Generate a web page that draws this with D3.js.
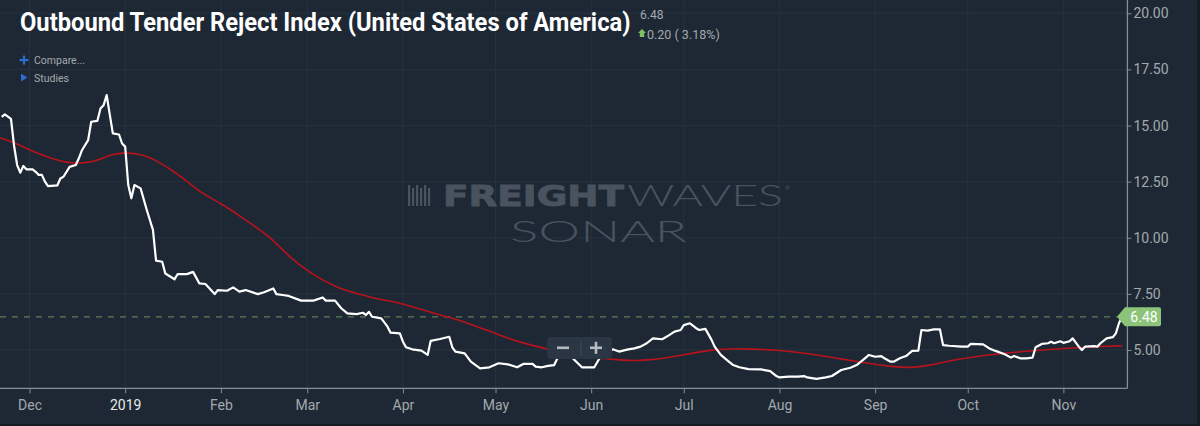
<!DOCTYPE html>
<html>
<head>
<meta charset="utf-8">
<script src="https://cdn.jsdelivr.net/npm/d3@7"></script>
<style>
  html, body { margin: 0; padding: 0; background: #141c24; }
  svg { display: block; font-family: Roboto, "Noto Sans", sans-serif; }
</style>
</head>
<body>
<svg id="chart" width="1200" height="426"></svg>
<script>
// Outbound tender reject index, daily
const rejDates = [
  "2018-11-22","2018-11-23","2018-11-24","2018-11-25","2018-11-26","2018-11-27","2018-11-28","2018-11-29","2018-11-30",
  "2018-12-02","2018-12-03","2018-12-04","2018-12-05","2018-12-06","2018-12-07","2018-12-10","2018-12-11","2018-12-12",
  "2018-12-14","2018-12-16","2018-12-17","2018-12-18","2018-12-20","2018-12-21","2018-12-23","2018-12-24","2018-12-25",
  "2018-12-26","2018-12-27","2018-12-28","2018-12-30","2018-12-31",
  "2019-01-01","2019-01-02","2019-01-03","2019-01-04","2019-01-06","2019-01-08","2019-01-10","2019-01-11","2019-01-13",
  "2019-01-14","2019-01-17","2019-01-18","2019-01-21","2019-01-23","2019-01-25","2019-01-27","2019-01-30","2019-01-31",
  "2019-02-03","2019-02-05","2019-02-07","2019-02-09","2019-02-13","2019-02-15","2019-02-18","2019-02-19","2019-02-21",
  "2019-02-23","2019-02-27","2019-03-03","2019-03-06","2019-03-07","2019-03-10","2019-03-12","2019-03-14","2019-03-17",
  "2019-03-19","2019-03-20","2019-03-21","2019-03-22","2019-03-25","2019-03-27","2019-03-28","2019-03-31",
  "2019-04-01","2019-04-02","2019-04-04","2019-04-07","2019-04-09","2019-04-10","2019-04-13","2019-04-16","2019-04-17",
  "2019-04-18","2019-04-21","2019-04-23","2019-04-26","2019-04-29",
  "2019-05-02","2019-05-05","2019-05-08","2019-05-10","2019-05-13","2019-05-14","2019-05-16","2019-05-18","2019-05-20",
  "2019-05-22","2019-05-24","2019-05-26","2019-05-29",
  "2019-06-02","2019-06-04","2019-06-06","2019-06-08","2019-06-10","2019-06-13","2019-06-15","2019-06-17","2019-06-19",
  "2019-06-21","2019-06-24","2019-06-26","2019-06-28","2019-06-30",
  "2019-07-01","2019-07-03","2019-07-05","2019-07-06","2019-07-08","2019-07-10","2019-07-11","2019-07-13","2019-07-15",
  "2019-07-17","2019-07-19","2019-07-22","2019-07-26","2019-07-29","2019-07-31",
  "2019-08-01","2019-08-04","2019-08-07","2019-08-09","2019-08-10","2019-08-13","2019-08-16","2019-08-18","2019-08-21",
  "2019-08-24","2019-08-26","2019-08-28","2019-08-30",
  "2019-09-01","2019-09-03","2019-09-04","2019-09-06","2019-09-07","2019-09-09","2019-09-11","2019-09-13","2019-09-15",
  "2019-09-16","2019-09-18","2019-09-20","2019-09-22","2019-09-23","2019-09-25","2019-09-29",
  "2019-10-01","2019-10-02","2019-10-06","2019-10-08","2019-10-10","2019-10-13","2019-10-15","2019-10-16","2019-10-18",
  "2019-10-20","2019-10-22","2019-10-23","2019-10-25","2019-10-27","2019-10-28","2019-10-29","2019-10-31",
  "2019-11-01","2019-11-03","2019-11-04","2019-11-06","2019-11-07","2019-11-08","2019-11-11","2019-11-12","2019-11-13",
  "2019-11-15","2019-11-17","2019-11-18","2019-11-19","2019-11-20"
];
const rejValues = [
  15.39,15.5,15.4,15.3,14.1,13.24,12.9,13.2,13.05,
  13.05,12.94,12.8,12.8,12.5,12.3,12.33,12.64,12.72,
  13.16,13.24,13.54,13.9,14.35,15.17,15.21,15.76,15.9,
  16.36,15.5,14.65,14.6,14.2,
  14.06,12.35,11.76,12.35,12.2,11.24,10.35,8.98,8.93,
  8.41,8.15,8.38,8.38,8.48,7.97,7.94,7.49,7.67,
  7.64,7.79,7.6,7.67,7.49,7.57,7.74,7.49,7.45,
  7.41,7.2,7.2,7.34,7.2,7.2,6.86,6.63,6.6,
  6.66,6.56,6.7,6.48,6.41,6.04,5.77,5.74,
  5.37,5.12,5.03,4.97,4.78,5.41,5.49,5.59,5.12,
  4.93,4.85,4.48,4.18,4.23,
  4.41,4.36,4.23,4.38,4.38,4.26,4.23,4.29,4.33,
  4.9,4.9,4.63,4.23,
  4.23,4.7,4.85,5.03,4.93,5.03,5.07,5.15,5.3,
  5.52,5.48,5.64,5.82,5.89,
  6.11,6.19,5.97,5.89,5.94,5.45,5.15,4.78,4.55,
  4.33,4.23,4.15,4.14,4.06,3.84,
  3.78,3.81,3.81,3.84,3.78,3.71,3.78,3.84,4.11,
  4.21,4.33,4.55,4.78,
  4.7,4.73,4.63,4.48,4.48,4.63,4.73,4.96,4.97,
  5.89,5.86,5.92,5.92,5.22,5.19,5.15,
  5.15,5.27,5.25,5.07,4.96,4.81,4.66,4.73,4.63,
  4.63,4.66,5.12,5.27,5.3,5.37,5.3,5.39,
  5.32,5.39,5.52,5.15,5.0,5.15,5.17,5.15,5.3,
  5.52,5.57,5.74,6.19,6.48
];

// moving average (red line)
const maDates = [
  "2018-11-21","2018-11-26","2018-12-01","2018-12-08","2018-12-13","2018-12-18","2018-12-23","2018-12-27","2018-12-31",
  "2019-01-06","2019-01-10","2019-01-17","2019-01-22","2019-01-25","2019-02-02","2019-02-09","2019-02-17","2019-02-23",
  "2019-03-02","2019-03-11","2019-03-17","2019-03-25","2019-03-31","2019-04-09","2019-04-16","2019-04-24","2019-05-02",
  "2019-05-10","2019-05-18","2019-05-28","2019-06-08","2019-06-15","2019-06-20","2019-06-28","2019-07-10","2019-07-19",
  "2019-08-01","2019-08-10","2019-08-21","2019-08-31","2019-09-06","2019-09-13","2019-09-18","2019-09-29","2019-10-10",
  "2019-10-21","2019-11-01","2019-11-12","2019-11-20"
];
const maValues = [
  14.47,14.26,13.9,13.54,13.34,13.31,13.43,13.69,13.8,
  13.73,13.54,12.94,12.42,12.05,11.46,10.79,10.05,9.16,
  8.41,7.74,7.52,7.23,7.11,6.71,6.46,6.11,5.67,
  5.3,5.03,4.72,4.58,4.52,4.55,4.7,5.03,5.07,
  5.0,4.85,4.6,4.38,4.26,4.2,4.3,4.63,4.82,
  4.96,5.07,5.15,5.19
];

const yTicks = [5, 7.5, 10, 12.5, 15, 17.5, 20];
const monthTicks = ["2018-12-01","2019-01-01","2019-02-01","2019-03-01","2019-04-01","2019-05-01",
                    "2019-06-01","2019-07-01","2019-08-01","2019-09-01","2019-10-01","2019-11-01"];
const monthLabels = ["Dec","2019","Feb","Mar","Apr","May","Jun","Jul","Aug","Sep","Oct","Nov"];

const lastValue = 6.48;
const lastChange = 0.20;
const lastChangePct = 3.18;

const parse = d3.timeParse("%Y-%m-%d");
const rej = rejDates.map((d, i) => ({ date: parse(d), value: rejValues[i] }));
const ma = maDates.map((d, i) => ({ date: parse(d), value: maValues[i] }));
const months = monthTicks.map(parse);

const svg = d3.select("#chart");
const plotW = 1127.4, plotH = 388.3;

// background panel
svg.append("rect").attr("width", 1197).attr("height", 424).attr("fill", "#1d2834");

const x = d3.scaleTime()
  .domain([parse("2018-12-01"), parse("2019-11-01")])
  .range([29.5, 1063.4]);
const y = d3.scaleLinear()
  .domain([5, 20])
  .range([350, 13.3]);

// grid
const grid = svg.append("g").attr("stroke", "#26323f").attr("stroke-width", 1);
grid.selectAll(".vg").data(months).enter().append("line")
  .attr("x1", d => x(d)).attr("x2", d => x(d))
  .attr("y1", 0).attr("y2", plotH);
grid.selectAll(".hg").data(yTicks).enter().append("line")
  .attr("x1", 0).attr("x2", plotW)
  .attr("y1", d => y(d)).attr("y2", d => y(d));

// watermark
const wm = svg.append("g").attr("fill", "#48535f");
[0, 4, 8, 12, 16, 20].forEach((o, i) => {
  wm.append("rect").attr("x", 408 + o).attr("y", 185 + (i % 2) * 3)
    .attr("width", 2.2).attr("height", 21 - (i % 2) * 3);
});
wm.append("text").attr("x", 443).attr("y", 206)
  .attr("font-family", "'DejaVu Sans', sans-serif").attr("font-weight", 700)
  .attr("font-size", 29).attr("textLength", 181).attr("lengthAdjust", "spacingAndGlyphs")
  .attr("stroke", "#48535f").attr("stroke-width", 0.9)
  .text("FREIGHT");
wm.append("text").attr("x", 627).attr("y", 206)
  .attr("font-family", "Lato, sans-serif").attr("font-weight", 300)
  .attr("font-size", 29).attr("textLength", 156).attr("lengthAdjust", "spacingAndGlyphs")
  .text("WAVES");
wm.append("text").attr("x", 785).attr("y", 190).attr("font-size", 6).text("®");
wm.append("text").attr("x", 510).attr("y", 242)
  .attr("font-family", "Lato, sans-serif").attr("font-weight", 300)
  .attr("font-size", 30).attr("textLength", 177).attr("lengthAdjust", "spacingAndGlyphs")
  .text("SONAR");

svg.append("clipPath").attr("id", "plotclip")
  .append("rect").attr("x", 0).attr("y", 0).attr("width", plotW).attr("height", plotH);

// last value dashed line
svg.append("line")
  .attr("x1", 0).attr("x2", 1117)
  .attr("y1", y(lastValue)).attr("y2", y(lastValue))
  .attr("stroke", "#5f7c58").attr("stroke-width", 1.3)
  .attr("stroke-dasharray", "6,6");

const lineG = svg.append("g").attr("clip-path", "url(#plotclip)");

lineG.append("path")
  .datum(ma)
  .attr("fill", "none")
  .attr("stroke", "#b8121c")
  .attr("stroke-width", 1.6)
  .attr("d", d3.line().x(d => x(d.date)).y(d => y(d.value)).curve(d3.curveBasis));

lineG.append("path")
  .datum(rej)
  .attr("fill", "none")
  .attr("stroke", "#ffffff")
  .attr("stroke-width", 2.2)
  .attr("stroke-linejoin", "round")
  .attr("d", d3.line().x(d => x(d.date)).y(d => y(d.value)));

// axes
svg.append("line").attr("x1", plotW).attr("x2", plotW).attr("y1", 0).attr("y2", plotH)
  .attr("stroke", "#868d95").attr("stroke-width", 1.3);
svg.append("line").attr("x1", 0).attr("x2", plotW).attr("y1", plotH).attr("y2", plotH)
  .attr("stroke", "#868d95").attr("stroke-width", 1.3);

const yAxis = svg.append("g")
  .attr("transform", `translate(${plotW},0)`)
  .call(d3.axisRight(y).tickValues(yTicks).tickFormat(d3.format(".2f")).tickSize(4).tickPadding(2));
yAxis.select(".domain").remove();
yAxis.selectAll("line").attr("stroke", "#868d95");
yAxis.selectAll("text").attr("fill", "#a4a9ae").attr("font-size", 14)
  .attr("font-family", "Roboto, sans-serif");

const xAxis = svg.append("g")
  .attr("transform", `translate(0,${plotH})`)
  .call(d3.axisBottom(x).tickValues(months).tickFormat((d, i) => monthLabels[i]).tickSize(5).tickPadding(7));
xAxis.select(".domain").remove();
xAxis.selectAll("line").attr("stroke", "#868d95");
xAxis.selectAll("text")
  .attr("fill", (d, i) => i === 1 ? "#e8e8e8" : "#a4a9ae")
  .attr("font-size", 14)
  .attr("font-family", "Roboto, sans-serif");

// last value tag
const ty = y(lastValue);
svg.append("path")
  .attr("d", `M1117,${ty} L1125,${ty - 9.5} L1159,${ty - 9.5} Q1161,${ty - 9.5} 1161,${ty - 7.5} L1161,${ty + 7.5} Q1161,${ty + 9.5} 1159,${ty + 9.5} L1125,${ty + 9.5} Z`)
  .attr("fill", "#8cc47a");
svg.append("text").attr("x", 1144).attr("y", ty + 5)
  .attr("text-anchor", "middle").attr("fill", "#ffffff").attr("font-size", 14)
  .text(d3.format(".2f")(lastValue));

// zoom control
const zc = svg.append("g");
zc.append("rect").attr("x", 547).attr("y", 337).attr("width", 65).attr("height", 22).attr("rx", 4)
  .attr("fill", "#2a3643");
zc.append("line").attr("x1", 581).attr("x2", 581).attr("y1", 341).attr("y2", 356)
  .attr("stroke", "#3f4b58");
zc.append("rect").attr("x", 557).attr("y", 346.5).attr("width", 12).attr("height", 2.6).attr("fill", "#b6bbc1");
zc.append("rect").attr("x", 590).attr("y", 346.5).attr("width", 12).attr("height", 2.6).attr("fill", "#b6bbc1");
zc.append("rect").attr("x", 594.7).attr("y", 341.8).attr("width", 2.6).attr("height", 12).attr("fill", "#b6bbc1");

// title block: condensed look by scaling the bold title horizontally to fit
const titleG = svg.append("g");
const title = titleG.append("text").attr("x", 0).attr("y", 0)
  .attr("fill", "#ffffff").attr("font-weight", 700).attr("font-size", 26)
  .text("Outbound Tender Reject Index (United States of America)");
const titleLen = title.node().getComputedTextLength() || 700;
titleG.attr("transform", `translate(20,31) scale(${611 / titleLen},1)`);

svg.append("text").attr("x", 640).attr("y", 19)
  .attr("fill", "#a4a9ae").attr("font-size", 12)
  .text(d3.format(".2f")(lastValue));
svg.append("path").attr("d", "M642,29 L646,33 L644.2,33 L644.2,37 L639.8,37 L639.8,33 L638,33 Z")
  .attr("fill", "#7cc15c");
svg.append("text").attr("x", 647).attr("y", 38.5)
  .attr("fill", "#a4a9ae").attr("font-size", 12.5)
  .text(`${d3.format(".2f")(lastChange)} ( ${d3.format(".2f")(lastChangePct)}%)`);

// compare / studies
svg.append("rect").attr("x", 19.5).attr("y", 59).attr("width", 9).attr("height", 2.2).attr("fill", "#2f6bd0");
svg.append("rect").attr("x", 22.9).attr("y", 55.6).attr("width", 2.2).attr("height", 9).attr("fill", "#2f6bd0");
svg.append("text").attr("x", 34).attr("y", 64).attr("fill", "#a4a9ae").attr("font-size", 10.5).text("Compare...");
svg.append("path").attr("d", "M21,73.5 L27.5,77.5 L21,81.5 Z").attr("fill", "#2f6bd0");
svg.append("text").attr("x", 34).attr("y", 81.5).attr("fill", "#a4a9ae").attr("font-size", 10.5).text("Studies");
</script>
</body>
</html>
